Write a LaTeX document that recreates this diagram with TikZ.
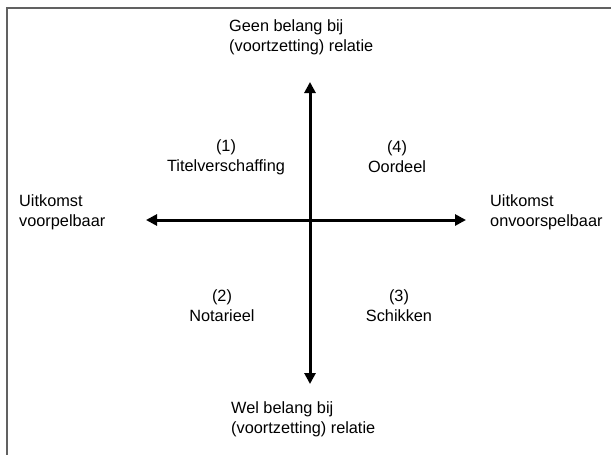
\documentclass[tikz,border=0pt]{standalone}
\usepackage{fontspec}
\setmainfont{Liberation Sans}
\usetikzlibrary{arrows.meta}
\begin{document}
\begin{tikzpicture}[x=1pt,y=-1pt,
  lbl/.style={inner sep=0pt,font=\fontsize{16.3}{20}\selectfont},
  lblc/.style={lbl,align=center},
  lbll/.style={lbl,align=left,anchor=west},
  axis/.style={line width=3pt,-{Triangle[length=11pt,width=11pt]}},
  frame/.style={draw=black!62,line width=2pt}]
\useasboundingbox (0,0) rectangle (611,455);
\coordinate (fa) at (7,455);
\coordinate (fb) at (7,8);
\coordinate (fc) at (611,8);
\draw[frame] (fa) -- (fb) -- (fc);
\coordinate (c) at (310,220);
\coordinate (top) at (310,82);
\coordinate (bot) at (310,384);
\coordinate (lft) at (146,220);
\coordinate (rgt) at (466,220);
\draw[axis] (c) -- (top);
\draw[axis] (c) -- (bot);
\draw[axis] (c) -- (lft);
\draw[axis] (c) -- (rgt);
\node[lbll] (geen) at (229,37) {Geen belang bij\\(voortzetting) relatie};
\node[lbll] (wel) at (231,419) {Wel belang bij\\(voortzetting) relatie};
\node[lbll] (uv) at (19,212) {Uitkomst\\voorpelbaar};
\node[lbll] (uo) at (490,212) {Uitkomst\\onvoorspelbaar};
\node[lblc] (q1) at (226,157) {(1)\\Titelverschaffing};
\node[lblc] (q4) at (397,157) {(4)\\Oordeel};
\node[lblc] (q2) at (222,306) {(2)\\Notarieel};
\node[lblc] (q3) at (399,306) {(3)\\Schikken};
\end{tikzpicture}
\end{document}
